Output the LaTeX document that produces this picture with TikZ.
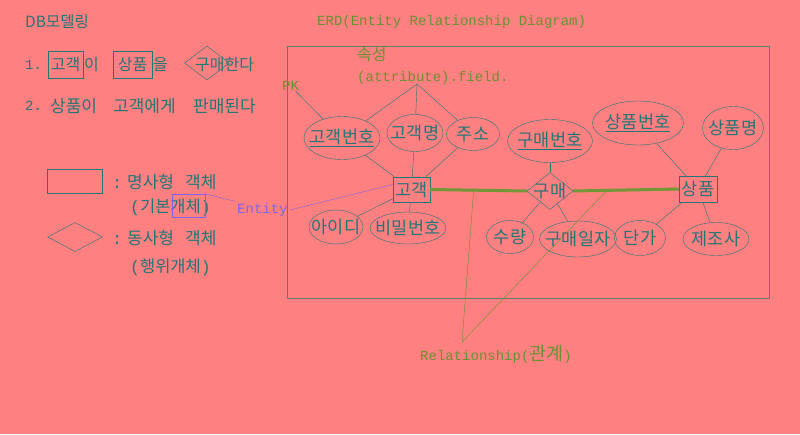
\documentclass[tikz,border=0pt]{standalone}
\usepackage{fontspec}
\setmainfont{Liberation Mono}
\newfontfamily\kr{Noto Sans CJK KR}
\newfontfamily\mono{Liberation Mono}
\usetikzlibrary{shapes.geometric,positioning,calc}
\definecolor{bgpink}{RGB}{255,128,128}
\definecolor{teal}{RGB}{35,118,118}
\definecolor{olive}{RGB}{105,145,50}
\definecolor{thickgreen}{RGB}{115,150,55}
\definecolor{entpurple}{RGB}{125,100,230}
\definecolor{frame}{RGB}{85,130,100}
\tikzset{every node/.style={inner sep=0pt, text=teal},
        txt/.style={anchor=west, font=\fontsize{14}{16}\selectfont},
        ktxt/.style={anchor=west, font=\kr\fontsize{16}{18}\selectfont},
        attr/.style={ellipse, draw=teal,
                     label={[font=\kr\fontsize{17.5}{19}\selectfont]center:#1}},
        ent/.style={rectangle, draw=teal, font=\kr\fontsize{17.5}{19}\selectfont},
        rel/.style={diamond, draw=teal},
        link/.style={draw=teal},
        strong/.style={draw=thickgreen, line width=3pt},
        green/.style={text=olive},
        }

\begin{document}
\begin{tikzpicture}[x=1pt,y=-1pt]
    \fill[bgpink] (0,0) rectangle (800,434);
    \useasboundingbox (0,0) rectangle (800,434);

    % left side: sentences
    \node[ktxt, font=\kr\fontsize{15.5}{17}\selectfont] (title) at (25,22) {DB모델링};
    \node[txt] (one) at (25,65) {1.};
    \node[ent, font=\kr\fontsize{16}{18}\selectfont, minimum width=35, minimum height=27] (lcust) at (65.5,64.5) {고객};
    \node[ktxt] (lcusti) at (84,65) {이};
    \node[ent, font=\kr\fontsize{16}{18}\selectfont, minimum width=39, minimum height=27] (lprod) at (132.5,64.5) {상품};
    \node[ktxt] (lprodi) at (153,65) {을};
    \node[rel, minimum width=45, minimum height=34] (lbuy) at (207,63) {};
    \node[ktxt] (lbuyt) at (195,65) {구매한다};
    \node[txt] (two) at (25,106) {2.};
    \node[ktxt, font=\kr\fontsize{17}{19}\selectfont] (twot) at (50,106)
        {\makebox[63pt][l]{상품이}\makebox[80pt][l]{고객에게}판매된다};

    % legend
    \node[draw=teal, minimum width=55, minimum height=24] (lgent) at (74.5,181) {};
    \node[ktxt, font=\kr\fontsize{17}{19}\selectfont] (lgentt) at (112,182)
        {\makebox[15pt][l]{\mono :}\makebox[58pt][l]{명사형}객체};
    \node[ktxt, font=\kr\fontsize{16.5}{18}\selectfont] (lgbase) at (130,207) {{\mono(}기본개체{\mono)}};
    \node[draw=entpurple, minimum width=33, minimum height=23] (lgbox) at (188.5,205.5) {};
    \node[rel, minimum width=55, minimum height=29] (lgrel) at (75,237) {};
    \node[ktxt, font=\kr\fontsize{17}{19}\selectfont] (lgrelt) at (112,238)
        {\makebox[15pt][l]{\mono :}\makebox[58pt][l]{동사형}객체};
    \node[ktxt, font=\kr\fontsize{16.5}{18}\selectfont] (lgact) at (130,267) {{\mono(}행위개체{\mono)}};
    \node[txt, text=entpurple, inner sep=2pt] (entity) at (235,210) {Entity};

    % ERD
    \node[txt, green] (erdtitle) at (317,22) {ERD(Entity Relationship Diagram)};
    \draw[frame] (287,46) rectangle (769,298);
    \node[ktxt, green] (prop) at (357,55) {속성};
    \node[txt, green] (propf) at (357,78) {(attribute).field.};
    \node[txt, green] (pk) at (282,86) {PK};
    \coordinate (propc) at (417,84);

    \node[ent, minimum width=37, minimum height=25] (cust) at (411.5,189.5) {고객};
    \node[rel, minimum width=46, minimum height=37] (buy) at (550,191) {};
    \node[font=\kr\fontsize{17.5}{19}\selectfont] (buyt) at (buy) {구매};
    \node[ent, minimum width=38, minimum height=26] (prod) at (698,189) {상품};

    \node[attr={\underline{고객번호}}, minimum width=76, minimum height=43] (custno) at (342,138) {};
    \node[attr=고객명, minimum width=56, minimum height=37] (custname) at (415,133) {};
    \node[attr=주소, minimum width=53, minimum height=33] (addr) at (473,134) {};
    \node[attr=아이디, minimum width=54, minimum height=34] (userid) at (336,227) {};
    \node[attr=비밀번호, minimum width=76, minimum height=32] (passwd) at (408,228) {};
    \node[attr={\underline{구매번호}}, minimum width=85, minimum height=43] (buyno) at (550,141) {};
    \node[attr=수량, minimum width=47, minimum height=33] (qty) at (510,237) {};
    \node[attr=구매일자, minimum width=77, minimum height=36] (buydate) at (578,239) {};
    \node[attr={\underline{상품번호}}, minimum width=91, minimum height=44] (prodno) at (638,123) {};
    \node[attr=상품명, minimum width=61, minimum height=43] (prodname) at (733,128) {};
    \node[attr=단가, minimum width=51, minimum height=35] (price) at (640,238) {};
    \node[attr=제조사, minimum width=66, minimum height=33] (maker) at (716,239) {};

    \draw[link] (pk) -- (custno);
    \draw[link] (propc) -- (custno);
    \draw[link] (propc) -- (custname);
    \draw[link] (propc) -- (addr);
    \foreach \a in {custno,custname,addr,userid,passwd}
        \draw[link] (\a) -- (cust);
    \foreach \a in {buyno,qty,buydate}
        \draw[link] (\a) -- (buy);
    \foreach \a in {prodno,prodname,price,maker}
        \draw[link] (\a) -- (prod);

    % relationship lines
    \coordinate (r1) at ($(cust.east)!0.45!(buy.west)$);
    \coordinate (r2) at ($(buy.east)!0.32!(prod.west)$);
    \coordinate (relc) at (462,342);
    \draw[olive] (relc) -- (r1);
    \draw[olive] (relc) -- (r2);
    \draw[strong] (cust.east) -- (buy.west);
    \draw[strong] (buy.east) -- (prod.west);
    \node[txt, green] (reltxt) at (420,354) {Relationship({\kr\fontsize{18.5}{20}\selectfont 관계})};

    % entity pointer
    \draw[entpurple] (lgbox.north east) -- (entity.north west);
    \draw[entpurple] (entity.east) -- ([yshift=5pt]cust.west);
\end{tikzpicture}
\end{document}
